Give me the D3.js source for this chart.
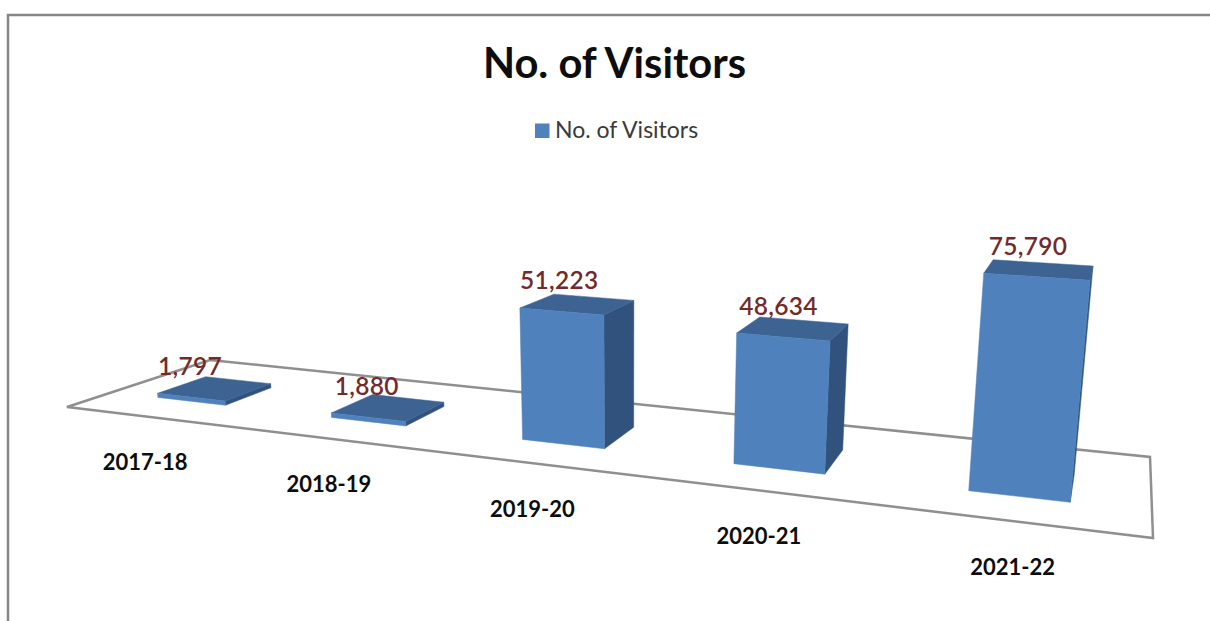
<!DOCTYPE html>
<html>
<head>
<meta charset="utf-8">
<script src="https://cdn.jsdelivr.net/npm/d3@7"></script>
<style>
  html, body { margin: 0; padding: 0; background: #fff; overflow: hidden; }
  text { font-family: Lato, "Open Sans", sans-serif; }
</style>
</head>
<body>
<script>
var categories = ['2017-18', '2018-19', '2019-20', '2020-21', '2021-22'];
var visitors = [1797, 1880, 51223, 48634, 75790];
var seriesName = 'No. of Visitors';

var width = 1210;
var height = 621;

var svg = d3.select('body').append('svg')
  .attr('width', width)
  .attr('height', height);

// the frame only shows on top and left
svg.append('path')
  .attr('d', 'M8,' + height + 'V15H' + width)
  .attr('fill', 'none')
  .attr('stroke', '#868686')
  .attr('stroke-width', 2.5);

// category position along the floor, 0..1
var x = d3.scaleBand()
  .domain(categories)
  .range([-0.004, 0.998])
  .paddingInner(0.6)
  .paddingOuter(0.3);

// value to homogeneous height term of the projection
var y = d3.scaleLinear()
  .domain([0, 80000])
  .range([0, -0.03744]);

var depthFront = 0.285;
var depthBack = 0.63;

// perspective projection of the chart box: u along the floor, w into the
// picture, t up. Fitted on the corners of the floor in the picture
var vanishX = 627, vanishY = 5440;
function project(u, w, t) {
  var d = 1 - 0.2347 * u + 0.1546 * w + t;
  return [
    (815.4 * u + 175.5 * w + 67 + t * vanishX) / d,
    (4.73 * u + 8.66 * w + 407 + t * vanishY) / d
  ];
}

var poly = d3.line().curve(d3.curveLinearClosed);

// floor
svg.append('path')
  .attr('d', poly([project(0, 0, 0), project(1, 0, 0), project(1, 1, 0), project(0, 1, 0)]))
  .attr('fill', 'none')
  .attr('stroke', '#8f8f8f')
  .attr('stroke-width', 2.5);

var bars = svg.append('g').selectAll('g')
  .data(categories)
  .enter().append('g');

function face(g, pts, color) {
  g.append('path')
    .attr('d', poly(pts))
    .attr('fill', color)
    .attr('stroke', color)
    .attr('stroke-width', 0.5);
}

bars.each(function(cat, i) {
  var g = d3.select(this);
  var u0 = x(cat);
  var u1 = u0 + x.bandwidth();
  var t = y(visitors[i]);

  // right side
  face(g, [project(u1, depthFront, 0), project(u1, depthBack, 0), project(u1, depthBack, t), project(u1, depthFront, t)], '#31527c');
  // top
  face(g, [project(u0, depthFront, t), project(u1, depthFront, t), project(u1, depthBack, t), project(u0, depthBack, t)], '#3d6392');
  // front
  face(g, [project(u0, depthFront, 0), project(u1, depthFront, 0), project(u1, depthFront, t), project(u0, depthFront, t)], '#4f81bd');
});

function uMid(d) {
  return x(d) + x.bandwidth() / 2;
}

// value labels, above the front of the bar top. They drift left a bit
// towards the right of the chart
svg.append('g').selectAll('text')
  .data(categories)
  .enter().append('text')
  .attr('x', function(d, i) {
    var u = uMid(d);
    return project(u, depthFront, y(visitors[i]))[0] - 1 - 10 * u * u * u;
  })
  .attr('y', function(d, i) {
    return project(uMid(d), depthFront, y(visitors[i]))[1] - 22;
  })
  .attr('text-anchor', 'middle')
  .attr('font-size', 24.5)
  .attr('font-weight', 600)
  .attr('letter-spacing', 0.3)
  .attr('fill', '#722a2a')
  .text(function(d, i) { return d3.format(',')(visitors[i]); });

// category labels, parallel to the front of the floor
svg.append('g').selectAll('text')
  .data(categories)
  .enter().append('text')
  .attr('x', function(d) { return project(uMid(d), -0.03, 0)[0] + 1; })
  .attr('y', function(d) { return project(uMid(d), -0.03, 0)[1] + 51; })
  .attr('text-anchor', 'middle')
  .attr('font-size', 22)
  .attr('font-weight', 700)
  .attr('fill', '#0d0d0d')
  .text(function(d) { return d; });

// title
svg.append('text')
  .attr('x', 614.5)
  .attr('y', 78)
  .attr('text-anchor', 'middle')
  .attr('font-size', 41.7)
  .attr('font-weight', 700)
  .attr('fill', '#0d0d0d')
  .text(seriesName);

// legend
svg.append('rect')
  .attr('x', 535)
  .attr('y', 123.5)
  .attr('width', 14.5)
  .attr('height', 14.5)
  .attr('fill', '#4f81bd');

svg.append('text')
  .attr('x', 555)
  .attr('y', 138)
  .attr('font-size', 23)
  .attr('fill', '#3a3a3a')
  .text(seriesName);
</script>
</body>
</html>
